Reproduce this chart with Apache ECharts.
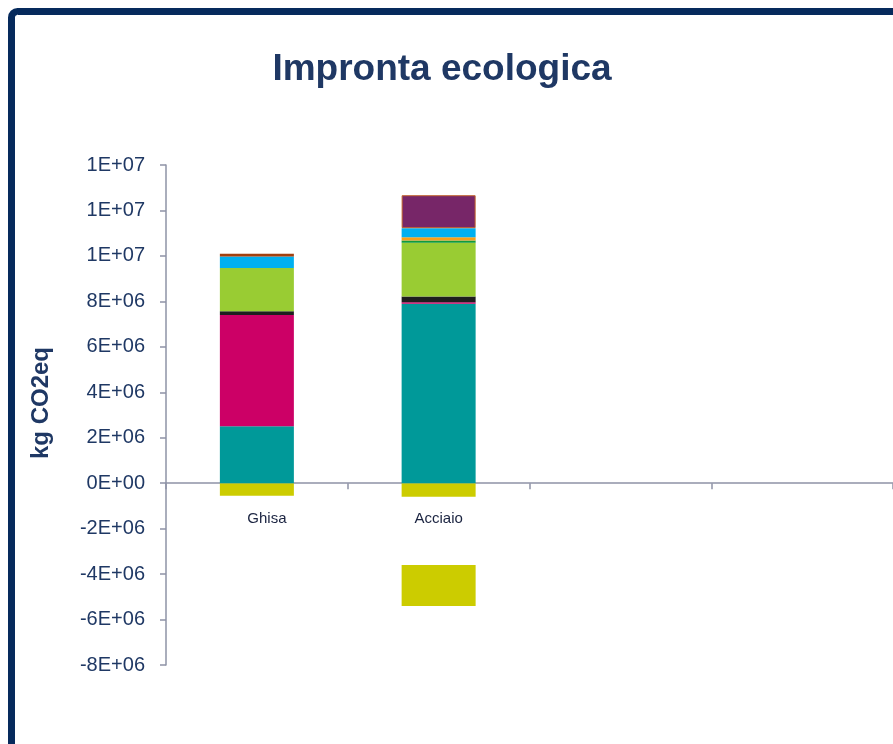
<!DOCTYPE html>
<html>
<head>
<meta charset="utf-8">
<title>Impronta ecologica</title>
<script src="https://cdn.jsdelivr.net/npm/echarts@6/dist/echarts.min.js"></script>
<style>
  html, body { margin: 0; padding: 0; background: #ffffff; }
  #chart { width: 893px; height: 744px; }
</style>
</head>
<body>
<div id="chart"></div>
<script>
// Categories on the x axis (two empty slots keep the axis running to the right edge)
const categories = ['Ghisa', 'Acciaio', '', ''];

// Contributions, kg CO2eq, per category (negative = credits)
const creditoA     = [-550000,  -600000, 0, 0];
const intervallo   = [0,      -3000000, 0, 0];   // spacing, not drawn
const creditoB     = [0,      -1800000, 0, 0];
const materiaPrima = [2500000, 7900000, 0, 0];
const fusione      = [4900000,   60000, 0, 0];
const combustibili = [170000,   250000, 0, 0];
const energia      = [1900000, 2370000, 0, 0];
const additivi     = [0,        100000, 0, 0];
const trasporti    = [0,        140000, 0, 0];
const lavorazioni  = [500000,   400000, 0, 0];
const rivestimenti = [0,       1450000, 0, 0];
const smaltimento  = [130000,        0, 0, 0];

// y axis: -8E+06 .. 1.4E+07 in steps of 2E+06
const yMin = -8000000, yMax = 14000000, yStep = 2000000;

// plot area
const gridTop = 165, gridHeight = 500, gridLeft = 166;

function sci(v) {
  if (v === 0) return '0E+00';
  const parts = v.toExponential(0).split('e');
  const exp = parseInt(parts[1], 10);
  const sign = exp < 0 ? '-' : '+';
  const e = String(Math.abs(exp)).padStart(2, '0');
  return parts[0] + 'E' + sign + e;
}

const stackDefs = [
  ['Crediti', creditoA, '#cccc00'],
  ['Intervallo', intervallo, 'rgba(0,0,0,0)'],
  ['Crediti (2)', creditoB, '#cccc00'],
  ['Materia prima', materiaPrima, '#009999'],
  ['Fusione', fusione, '#cc0066'],
  ['Combustibili', combustibili, '#1e1e1e'],
  ['Energia', energia, '#99cc33'],
  ['Additivi', additivi, '#109a3c'],
  ['Trasporti', trasporti, '#f5a01a'],
  ['Lavorazioni', lavorazioni, '#00b0f0'],
  ['Rivestimenti', rivestimenti, '#772668'],
  ['Smaltimento', smaltimento, '#a3410f']
];

const series = stackDefs.map(function (d) {
  const outlined = d[0] === 'Rivestimenti';
  return {
    name: d[0],
    type: 'bar',
    stack: 'totale',
    barWidth: 74,
    itemStyle: { color: d[2] },
    emphasis: { disabled: true },
    data: d[1].map(function (v) {
      if (outlined && v !== 0) {
        return { value: v, itemStyle: { borderColor: '#c0602a', borderWidth: 1 } };
      }
      return v;
    })
  };
});

// category labels; the first one sits a little right of its bar
const categoryItems = categories.map(function (c, i) {
  return i === 0 ? { value: c, textStyle: { padding: [0, 0, 0, 20] } } : c;
});

// shift the category axis (line, ticks and labels) up to the zero line
const zeroOffset = -((0 - yMin) / (yMax - yMin)) * gridHeight;

const navy = '#1f3864';
const axisGrey = '#8e93a6';
const font = '"Liberation Sans", Arial, sans-serif';

const chart = echarts.init(document.getElementById('chart'), null, { renderer: 'canvas' });
chart.setOption({
  animation: false,
  backgroundColor: '#ffffff',
  textStyle: { fontFamily: font },
  title: {
    text: 'Impronta ecologica',
    left: 437,
    top: 46,
    textAlign: 'center',
    textStyle: { color: navy, fontSize: 37, fontWeight: 'bold', fontFamily: font }
  },
  graphic: [{
    type: 'rect',
    shape: { x: 11.5, y: 11.5, width: 1400, height: 1400, r: 6 },
    style: { fill: 'none', stroke: '#062a5c', lineWidth: 7 },
    silent: true,
    z: 100
  }],
  grid: { left: gridLeft, top: gridTop, height: gridHeight, right: -8 },
  xAxis: {
    type: 'category',
    data: categoryItems,
    offset: zeroOffset,
    axisLine: { onZero: false, lineStyle: { color: axisGrey, width: 1.5 } },
    axisTick: { show: true, length: 6, lineStyle: { color: axisGrey, width: 1.5 } },
    axisLabel: { color: '#1a2340', fontSize: 15, margin: 28, fontFamily: font },
    splitLine: { show: false }
  },
  yAxis: {
    type: 'value',
    min: yMin,
    max: yMax,
    interval: yStep,
    name: 'kg CO2eq',
    nameLocation: 'middle',
    nameRotate: 90,
    nameGap: 113,
    nameTextStyle: {
      color: navy, fontSize: 24, fontWeight: 'bold', fontFamily: font,
      padding: [0, 0, 0, 24]
    },
    axisLine: { show: true, lineStyle: { color: axisGrey, width: 1.5 } },
    axisTick: { show: true, length: 6, lineStyle: { color: axisGrey, width: 1.5 } },
    axisLabel: { color: navy, fontSize: 20, margin: 21, formatter: sci, fontFamily: font },
    splitLine: { show: false }
  },
  series: series
});
</script>
</body>
</html>
